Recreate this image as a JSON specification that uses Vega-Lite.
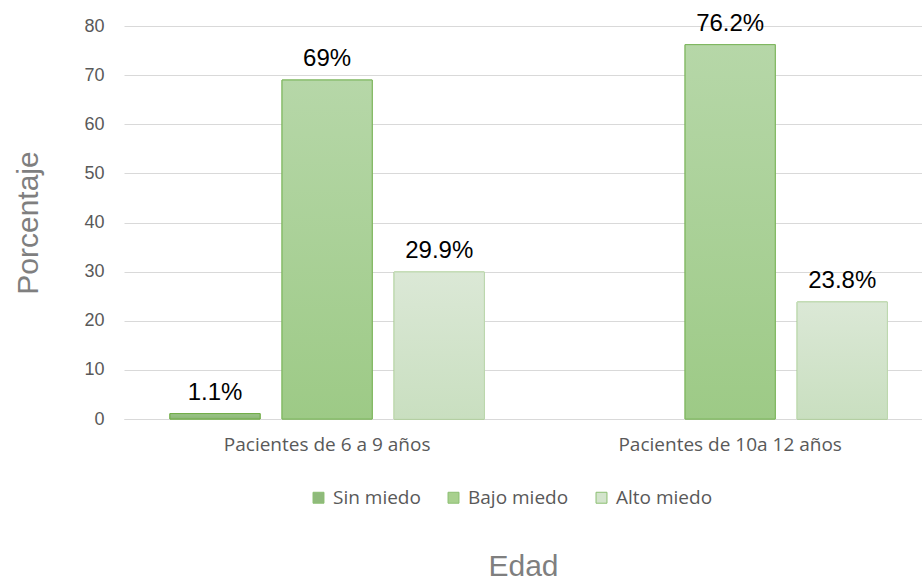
{
  "$schema": "https://vega.github.io/schema/vega-lite/v6.json",
  "autosize": "none",
  "width": 798,
  "height": 393,
  "padding": {"left": 124, "top": 26, "right": 0, "bottom": 163},
  "background": "white",
  "data": {"values": [
    {"grupo": "Pacientes de 6 a 9 años", "nivel": "Sin miedo", "valor": 1.1, "label": "1.1%"},
    {"grupo": "Pacientes de 6 a 9 años", "nivel": "Bajo miedo", "valor": 69, "label": "69%"},
    {"grupo": "Pacientes de 6 a 9 años", "nivel": "Alto miedo", "valor": 29.9, "label": "29.9%"},
    {"grupo": "Pacientes de 10a 12 años", "nivel": "Bajo miedo", "valor": 76.2, "label": "76.2%"},
    {"grupo": "Pacientes de 10a 12 años", "nivel": "Alto miedo", "valor": 23.8, "label": "23.8%"}
  ]},
  "encoding": {
    "x": {
      "field": "grupo", "type": "nominal", "sort": null,
      "scale": {"paddingInner": 0.22, "paddingOuter": 0.1, "align": 0.57},
      "axis": {
        "title": "Edad", "labelAngle": 0, "ticks": false, "labelLimit": 0,
        "domainColor": "#d9d9d9", "labelColor": "#595959", "labelFont": "Open Sans", "labelFontSize": 19,
        "labelPadding": 16, "titleFont": "Liberation Sans", "titleFontSize": 30, "titleFontWeight": "normal",
        "titleColor": "#7f7f7f", "titlePadding": 97
      }
    },
    "xOffset": {
      "field": "nivel", "type": "nominal",
      "scale": {"domain": ["Sin miedo", "Bajo miedo", "Alto miedo"], "paddingInner": 0.196, "paddingOuter": 0}
    },
    "y": {
      "field": "valor", "type": "quantitative",
      "scale": {"domain": [0, 80], "nice": false},
      "axis": {
        "title": "Porcentaje", "values": [0, 10, 20, 30, 40, 50, 60, 70, 80],
        "domain": false, "ticks": false, "gridColor": "#d9d9d9",
        "labelColor": "#595959", "labelFont": "Liberation Sans", "labelFontSize": 18, "labelPadding": 20,
        "titleFont": "Liberation Sans", "titleFontSize": 30, "titleFontWeight": "normal",
        "titleColor": "#7f7f7f", "titlePadding": 40
      }
    }
  },
  "layer": [
    {
      "mark": {"type": "bar", "stroke": "#70ad47", "strokeWidth": 1},
      "encoding": {
        "color": {
          "field": "nivel", "type": "nominal",
          "scale": {"domain": ["Sin miedo", "Bajo miedo", "Alto miedo"], "range": ["#8fba7b", "#a8d08e", "#d3e4cc"]},
          "legend": {
            "title": null, "orient": "none", "direction": "horizontal", "legendX": 185, "legendY": 462,
            "symbolType": "square", "symbolSize": 120, "symbolStrokeWidth": 1, "symbolStrokeColor": "#8cbf72",
            "labelFont": "Open Sans", "labelFontSize": 19, "labelColor": "#595959", "labelOffset": 5,
            "columnPadding": 23
          }
        }
      }
    },
    {
      "transform": [{"filter": "datum.nivel === 'Sin miedo'"}],
      "mark": {"type": "bar", "stroke": "#70ad47", "strokeWidth": 1,
        "fill": {"gradient": "linear", "x1": 0, "y1": 0, "x2": 0, "y2": 1,
          "stops": [{"offset": 0, "color": "#9cc48a"}, {"offset": 1, "color": "#8ab774"}]}}
    },
    {
      "transform": [{"filter": "datum.nivel === 'Bajo miedo'"}],
      "mark": {"type": "bar", "stroke": "#7db65e", "strokeWidth": 1,
        "fill": {"gradient": "linear", "x1": 0, "y1": 0, "x2": 0, "y2": 1,
          "stops": [{"offset": 0, "color": "#b6d7a8"}, {"offset": 1, "color": "#9dca86"}]}}
    },
    {
      "transform": [{"filter": "datum.nivel === 'Alto miedo'"}],
      "mark": {"type": "bar", "stroke": "#c3dbb7", "strokeWidth": 1,
        "fill": {"gradient": "linear", "x1": 0, "y1": 0, "x2": 0, "y2": 1,
          "stops": [{"offset": 0, "color": "#dbe8d6"}, {"offset": 1, "color": "#c9dfc0"}]}}
    },
    {
      "mark": {"type": "text", "baseline": "alphabetic", "dy": -14, "font": "Liberation Sans", "fontSize": 24, "color": "#000000"},
      "encoding": {"text": {"field": "label", "type": "nominal"}}
    }
  ],
  "config": {"view": {"stroke": null}}
}
